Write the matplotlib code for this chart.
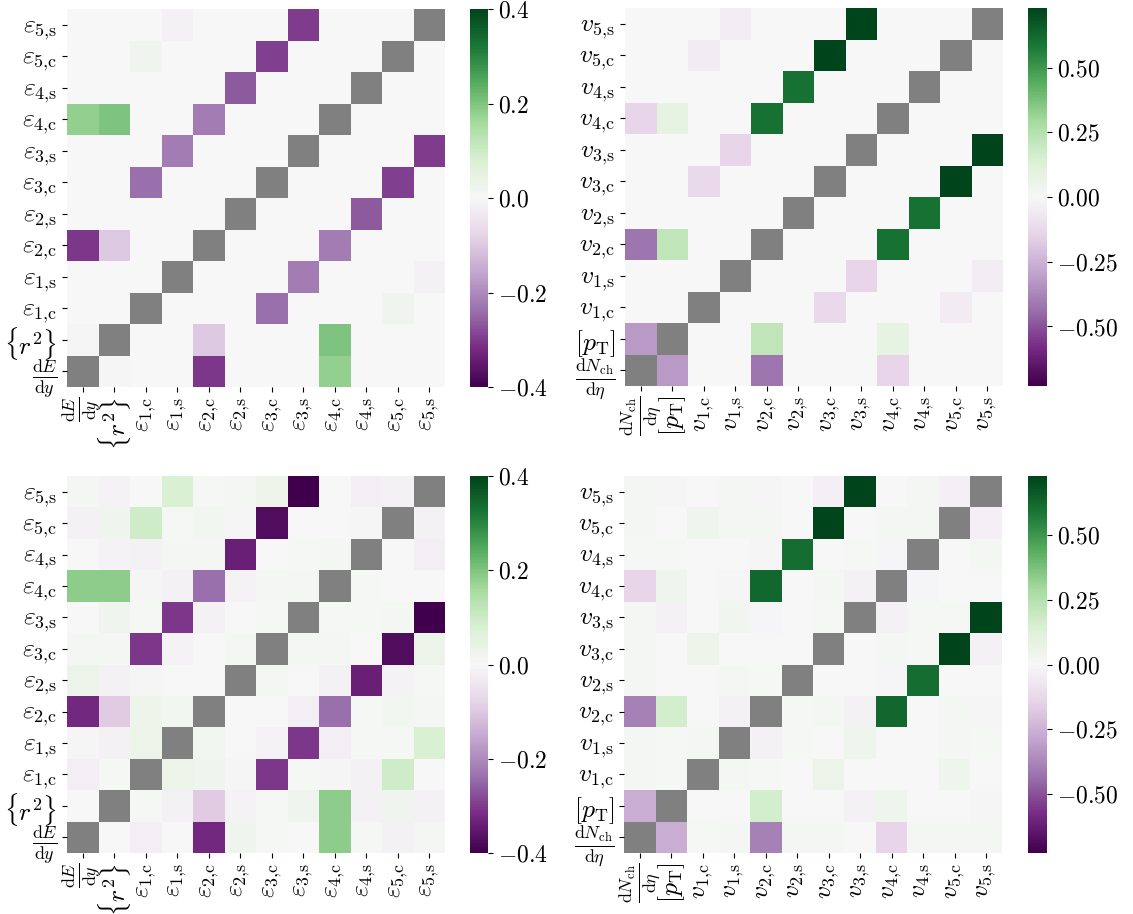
import numpy as np
import matplotlib
matplotlib.use("Agg")
import matplotlib.pyplot as plt

plt.rcParams['mathtext.fontset'] = 'cm'
plt.rcParams['font.family'] = 'serif'
plt.rcParams['font.serif'] = ['cmr10', 'DejaVu Serif']
plt.rcParams['axes.unicode_minus'] = False

# etiquetas (indice 0 abajo / izquierda)
eps_labels = [r'$\frac{\mathrm{d}E}{\mathrm{d}y}$', r'$\{r^2\}$'] + \
    [r'$\varepsilon_{%d{,}\mathrm{%s}}$' % (n, p) for n in range(1, 6) for p in 'cs']
vn_labels = [r'$\frac{\mathrm{d}N_\mathrm{ch}}{\mathrm{d}\eta}$', r'$[p_\mathrm{T}]$'] + \
    [r'$v_{%d{,}\mathrm{%s}}$' % (n, p) for n in range(1, 6) for p in 'cs']

# correlaciones (arriba)
eps_top = [
    [0, -0.005, 0, 0, -0.305, 0, 0, 0, 0.18, 0, 0, 0],
    [-0.005, 0, 0, 0, -0.10, 0, 0, 0, 0.20, 0, 0, 0],
    [0, 0, 0, 0, 0, 0, -0.24, 0, 0, 0, 0.02, 0],
    [0, 0, 0, 0, 0, 0, 0, -0.22, 0, 0, 0, -0.015],
    [-0.305, -0.10, 0, 0, 0, 0, 0, 0, -0.22, 0, 0, 0],
    [0, 0, 0, 0, 0, 0, 0, 0, 0, -0.265, 0, 0],
    [0, 0, -0.24, 0, 0, 0, 0, 0, 0, 0, -0.295, 0],
    [0, 0, 0, -0.22, 0, 0, 0, 0, 0, 0, 0, -0.30],
    [0.18, 0.20, 0, 0, -0.22, 0, 0, 0, 0, 0, 0, 0],
    [0, 0, 0, 0, 0, -0.265, 0, 0, 0, 0, 0, 0],
    [0, 0, 0.02, 0, 0, 0, -0.295, 0, 0, 0, 0, 0],
    [0, 0, 0, -0.015, 0, 0, 0, -0.30, 0, 0, 0, 0],
]
vn_top = [
    [0, -0.32, 0, 0, -0.42, 0, 0, 0, -0.14, 0, 0, 0],
    [-0.32, 0, 0, 0, 0.22, 0, 0, 0, 0.08, 0, 0, 0],
    [0, 0, 0, 0, 0, 0, -0.12, 0, 0, 0, -0.05, 0],
    [0, 0, 0, 0, 0, 0, 0, -0.14, 0, 0, 0, -0.045],
    [-0.42, 0.22, 0, 0, 0, 0, 0, 0, 0.60, 0, 0, 0],
    [0, 0, 0, 0, 0, 0, 0, 0, 0, 0.60, 0, 0],
    [0, 0, -0.12, 0, 0, 0, 0, 0, 0, 0, 0.725, 0],
    [0, 0, 0, -0.14, 0, 0, 0, 0, 0, 0, 0, 0.725],
    [-0.14, 0.08, 0, 0, 0.60, 0, 0, 0, 0, 0, 0, 0],
    [0, 0, 0, 0, 0, 0.60, 0, 0, 0, 0, 0, 0],
    [0, 0, -0.05, 0, 0, 0, 0.725, 0, 0, 0, 0, 0],
    [0, 0, 0, -0.045, 0, 0, 0, 0.725, 0, 0, 0, 0],
]

# correlaciones (abajo)
eps_bot = [
    [0, 0, -0.02, 0, -0.325, 0.02, 0.005, 0, 0.185, 0.005, -0.015, 0.01],
    [0, 0, 0.005, -0.015, -0.095, -0.01, 0.005, 0.02, 0.185, -0.015, 0.02, -0.015],
    [-0.02, 0.005, 0, 0.03, 0.02, -0.005, -0.305, 0.005, -0.005, -0.015, 0.095, 0],
    [-0.005, -0.015, 0.03, 0, 0.015, 0, -0.01, -0.305, -0.02, 0.005, 0.005, 0.08],
    [-0.325, -0.095, 0.025, 0.015, 0, 0, 0, -0.02, -0.24, 0.005, 0.015, 0.01],
    [0.03, -0.015, -0.005, 0, 0, 0, 0.01, 0, -0.015, -0.34, -0.01, 0.005],
    [0.01, 0.01, -0.305, -0.01, 0, 0.01, 0, 0.01, 0.01, 0, -0.375, 0.03],
    [0, 0.02, 0.005, -0.305, -0.015, 0, 0.005, 0, 0.005, 0.005, 0.01, -0.4],
    [0.185, 0.185, -0.005, -0.015, -0.24, -0.01, 0.01, 0.01, 0, 0.005, 0, 0],
    [0, -0.01, -0.015, 0.01, 0.01, -0.34, 0, 0.005, 0.01, 0, 0, -0.02],
    [-0.015, 0.02, 0.095, 0.005, 0.015, -0.005, -0.375, 0, 0, -0.005, 0, -0.015],
    [0.01, -0.01, 0, 0.08, 0.005, 0.01, 0.03, -0.4, 0, -0.02, -0.015, 0],
]
vn_bot = [
    [0, -0.265, 0.01, 0.02, -0.39, 0.02, 0.02, 0, -0.137, 0.02, 0.02, 0.02],
    [-0.265, 0, 0, 0, 0.16, 0, 0, -0.025, 0.045, 0, 0, -0.01],
    [0.02, 0.01, 0, 0.02, 0.01, 0, 0.054, 0, 0, 0, 0.04, 0],
    [0.02, 0.01, 0.02, 0, -0.025, 0.01, 0, 0.04, 0, 0, 0.02, 0.01],
    [-0.39, 0.16, 0, -0.025, 0, 0.01, 0.02, -0.025, 0.632, 0, 0.02, -0.01],
    [0.02, 0, 0, 0.02, 0.01, 0, 0, 0, -0.015, 0.615, 0, 0],
    [0.02, 0, 0.054, 0, 0, 0, 0, 0, 0.02, 0.01, 0.725, -0.025],
    [0.02, -0.025, 0, 0.03, -0.015, 0, 0.01, 0, -0.025, 0.01, 0.01, 0.725],
    [-0.137, 0.045, 0, -0.01, 0.632, 0, 0.02, -0.025, 0, -0.015, 0, 0],
    [0.01, 0.01, 0, 0, -0.01, 0.615, 0, 0.01, -0.015, 0, 0, 0.02],
    [0.02, 0, 0.04, 0.02, 0.02, 0, 0.725, 0, 0.02, 0.02, 0, -0.03],
    [0.02, -0.01, 0, 0.02, -0.01, 0, -0.03, 0.725, 0, 0.02, -0.03, 0],
]

eps_lim = 0.4
vn_lim = 0.73
eps_ticks = [-0.4, -0.2, 0.0, 0.2, 0.4]
vn_ticks = [-0.5, -0.25, 0.0, 0.25, 0.5]

W, H = 1133, 914
cmap = plt.get_cmap('PRGn').copy()
cmap.set_bad('gray')


def box(x0, x1, y0, y1):
    return [x0 / W, 1 - y1 / H, (x1 - x0) / W, (y1 - y0) / H]


def panel(fig, hbox, cbox, mat, labels, lim, ticks, fmt):
    m = np.array(mat, dtype=float)
    np.fill_diagonal(m, np.nan)
    ax = fig.add_axes(box(*hbox))
    n = len(labels)
    mesh = ax.pcolormesh(np.arange(n + 1), np.arange(n + 1), np.ma.masked_invalid(m),
                         cmap=cmap, vmin=-lim, vmax=lim)
    ax.set_xlim(0, n); ax.set_ylim(0, n)
    ax.set_xticks(np.arange(n) + 0.5)
    ax.set_xticklabels(labels, rotation=90, fontsize=18.5)
    ax.set_yticks(np.arange(n) + 0.5)
    ax.set_yticklabels(labels, fontsize=18.5)
    for s in ax.spines.values():
        s.set_visible(False)
    ax.tick_params(length=3.5, width=0.8)
    cax = fig.add_axes(box(*cbox))
    cb = fig.colorbar(mesh, cax=cax)
    cb.outline.set_visible(False)
    cb.set_ticks(ticks)
    cb.set_ticklabels([fmt % t for t in ticks])
    cax.tick_params(labelsize=17, length=3.5, width=0.8)


fig = plt.figure(figsize=(W / 100, H / 100), dpi=100)
panel(fig, (67, 445, 9, 387), (470, 488, 9, 387), eps_top, eps_labels, eps_lim,
      eps_ticks, r'$%.1f$')
panel(fig, (625, 1003, 8, 386), (1028, 1047, 8, 386), vn_top, vn_labels, vn_lim,
      vn_ticks, r'$%.2f$')
panel(fig, (67, 445, 476, 853), (470, 488, 476, 853), eps_bot, eps_labels, eps_lim,
      eps_ticks, r'$%.1f$')
panel(fig, (624, 1002, 476, 853), (1028, 1047, 476, 853), vn_bot, vn_labels, vn_lim,
      vn_ticks, r'$%.2f$')
fig.savefig('out.png', dpi=100)
